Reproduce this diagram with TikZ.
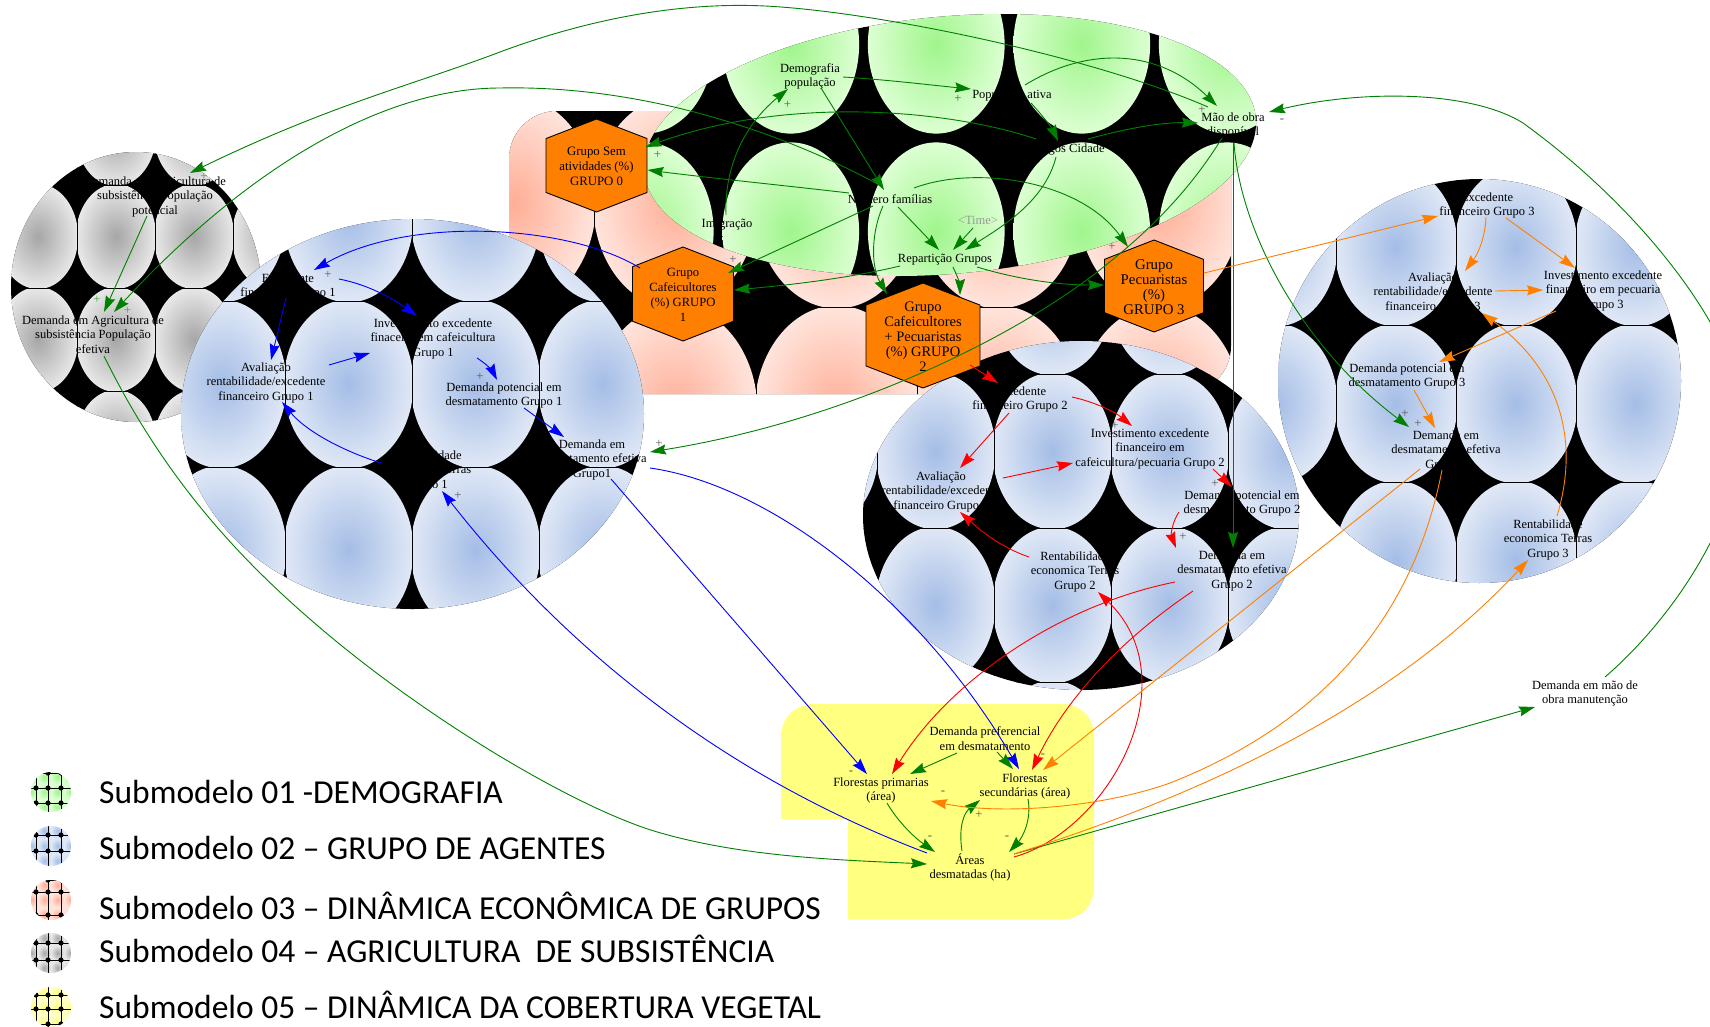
\documentclass[tikz,border=0pt]{standalone}
\usepackage{fontspec}
\setmainfont{Liberation Serif}
\newfontfamily\legendfont{Carlito}
\usetikzlibrary{arrows.meta,calc}
\definecolor{gin}{HTML}{A0F58C}\definecolor{gout}{HTML}{DCFFD2}
\definecolor{bin}{HTML}{A4BDE6}\definecolor{bout}{HTML}{E0E8F6}
\definecolor{sin}{HTML}{FFAE96}\definecolor{sout}{HTML}{FFE4DC}
\definecolor{cin}{HTML}{A6A6A6}\definecolor{cout}{HTML}{E8E8E8}
\definecolor{yin}{HTML}{FFFF80}\definecolor{yout}{HTML}{FFFFC8}
\definecolor{orangebox}{HTML}{FF8000}
\definecolor{vgreen}{HTML}{008000}
\tikzset{
 varbox/.style={align=center,inner sep=0pt,yshift=-1.5pt,font=\fontsize{12.5}{14.5}\selectfont},
 hexlabel/.style={align=center,inner sep=0pt,font=\fontsize{#1}{15.1}\selectfont},
 hexbox/.style={fill=orangebox,draw=black,line width=0.9pt},
 pol/.style={inner sep=0pt,font=\fontsize{12.8}{13}\selectfont,text=black!65},
 polg/.style={inner sep=0pt,font=\fontsize{12.8}{13}\selectfont,text=green!60!black!80},
 legtext/.style={anchor=west,inner sep=0pt,font=\legendfont\fontsize{33.5}{36}\selectfont},
 lig/.style={line width=0.9pt,-{Stealth[length=16pt,width=10pt,inset=2pt]}},
 ligv/.style={lig,draw=vgreen,color=vgreen},
 ligb/.style={lig,color=blue},
 ligr/.style={lig,color=red},
 ligo/.style={lig,color=orangebox},
}
% x line, y line, w, h, cols, rows, inner, outer, radius excess
\newcommand\painel[9]{%
 \fill[black] (-10,-10) rectangle (1720,1040);
 \foreach \i in {1,...,#5}{\foreach \j in {1,...,#6}{%
  \shade[inner color=#7,outer color=#8] ({#1+(\i-0.5)*#3},{#2+(\j-0.5)*#4}) ellipse [x radius={(#3/2+#9)*1pt},y radius={(#4/2+#9)*1pt}];
 }}%
 \foreach \i in {0,...,#5}{\draw[black,line width=0.9pt] ({#1+\i*#3},-10) -- ({#1+\i*#3},1040);}%
 \foreach \j in {0,...,#6}{\draw[black,line width=0.9pt] (-10,{#2+\j*#4}) -- (1720,{#2+\j*#4});}%
}
% cx, cy, half w, half h
\newcommand\hexa[4]{%
 \draw[hexbox] (#1,{#2-#4}) -- ({#1+#3},{#2-0.58*#4}) -- ({#1+#3},{#2+0.58*#4}) -- (#1,{#2+#4}) -- ({#1-#3},{#2+0.58*#4}) -- ({#1-#3},{#2-0.58*#4}) -- cycle;
}
% cy, inner, outer, list of y offsets
\newcommand\icone[4]{%
 \begin{scope}
  \clip (51,#1) circle [radius=20pt];
  \fill[#3] (25,{#1-25}) rectangle (77,{#1+25});
  \foreach \cx in {-22,-9,4,17,30}{\foreach \cy in {-30,-15,0,15,30}{%
   \shade[inner color=#2,outer color=#3] ({51+\cx+2.5},{#1+\cy}) ellipse [x radius=6.5pt,y radius=7.5pt];}}
  \foreach \dy in {#4}{%
   \draw[black,line width=1pt] (25,{#1+\dy}) -- (77,{#1+\dy});
   \foreach \dx in {-15,-3,10}{\fill[black] ({51+\dx},{#1+\dy}) circle [radius=2.6pt];}}
  \foreach \dx in {-15,-3,10}{\draw[black,line width=1pt] ({51+\dx},{#1-25}) -- ({51+\dx},{#1+25});}
 \end{scope}
}
\begin{document}
\begin{tikzpicture}[x=1pt,y=-1pt]
\useasboundingbox (0,0) rectangle (1710,1026);
\fill[white] (0,0) rectangle (1710,1026);

% --- submodel 03: salmon panel
\begin{scope}
 \clip[rounded corners=48pt] (509,111) rectangle (1231,394);
 \painel{433}{-111}{161.5}{209}{5}{3}{sin}{sout}{1.5}
\end{scope}
% --- submodel 01: green panel
\begin{scope}
 \clip[rotate around={5:(950,145)}] (950,145) ellipse [x radius=307pt,y radius=128.7pt];
 \painel{572.5}{-49}{145.5}{187}{5}{2}{gin}{gout}{-4.4}
\end{scope}
% --- submodel 04: grey panel
\begin{scope}
 \clip (136,287) ellipse [x radius=125pt,y radius=135pt];
 \painel{-1}{82}{78}{103}{4}{4}{cin}{cout}{1.1}
\end{scope}
% --- submodel 02: blue panels
\begin{scope}
 \clip (412.5,414) ellipse [x radius=231.5pt,y radius=195pt];
 \painel{158}{135}{127}{166}{4}{3}{bin}{bout}{1.4}
\end{scope}
\begin{scope}
 \clip (1081,515.5) ellipse [x radius=218pt,y radius=174.5pt];
 \painel{760}{220}{117}{154}{5}{4}{bin}{bout}{1.4}
\end{scope}
\begin{scope}
 \clip (1479.5,381) ellipse [x radius=201.5pt,y radius=202pt];
 \painel{1216}{168}{120}{157}{4}{3}{bin}{bout}{1.4}
\end{scope}
% --- submodel 05: yellow panel
\fill[yin] (848,919.5) -- (848,819) -- (781,819) -- (781,737) .. controls (781,717) and (796,704) .. (814,704) -- (1061,704) .. controls (1081,704) and (1094,717) .. (1094,737) -- (1094,886) .. controls (1094,906) and (1081,919.5) .. (1061,919.5) -- cycle;

% --- hexagons
\hexa{596.5}{165.5}{50.5}{46.5}
\hexa{683}{294}{50.5}{47}
\hexa{923}{335.5}{57}{52.5}
\hexa{1154}{286}{49.5}{46}
\node[hexlabel=12.8] (g0) at (596.5,166) {Grupo Sem\\atividades (\%)\\GRUPO 0};
\node[hexlabel=12.6] (g1) at (683,295) {Grupo\\Cafeicultores\\(\%) GRUPO\\1};
\node[hexlabel=14.5] (g2) at (923,336.5) {Grupo\\Cafeicultores\\+ Pecuaristas\\(\%) GRUPO\\2};
\node[hexlabel=14.8] (g3) at (1154,287) {Grupo\\Pecuaristas\\(\%)\\GRUPO 3};

% --- variables
\node[varbox] (demo) at (810,75) {Demografia\\população};
\node[varbox] (popa) at (1012,94) {População ativa};
\node[varbox] (mao) at (1233,124) {Mão de obra\\disponível};
\node[varbox] (emp) at (1060,148) {Empregos Cidade};
\node[varbox] (num) at (890,198) {Número famílias};
\node[varbox] (imi) at (727,223) {Imigração};
\node[varbox,text=black!40] (time) at (978,219) {<Time>};
\node[varbox] (rep) at (945,258) {Repartição Grupos};
\node[varbox] (agp) at (155,195) {Demanda em Agricultura de\\subsistência População\\potencial};
\node[varbox] (age) at (93,333) {Demanda em Agricultura de\\subsistência População\\efetiva};
\node[varbox] (ex1) at (288,285) {Excedente\\financeiro Grupo 1};
\node[varbox] (inv1) at (433,337) {Investimento excedente\\finaceiro em cafeicultura\\Grupo 1};
\node[varbox] (av1) at (266,381) {Avaliação\\rentabilidade/excedente\\financeiro Grupo 1};
\node[varbox] (dp1) at (504,394) {Demanda potencial em\\desmatamento Grupo 1};
\node[varbox] (de1) at (592,458) {Demanda em\\desmatamento efetiva\\Grupo1};
\node[varbox] (re1) at (427,469) {Rentabilidade\\economica Terras\\Grupo 1};
\node[varbox] (ex2) at (1020,398) {Excedente\\financeiro Grupo 2};
\node[varbox] (inv2) at (1150,447) {Investimento excedente\\financeiro em\\cafeicultura/pecuaria Grupo 2};
\node[varbox] (av2) at (941,490) {Avaliação\\rentabilidade/excedente\\financeiro Grupo 2};
\node[varbox] (dp2) at (1242,502) {Demanda potencial em\\desmatamento Grupo 2};
\node[varbox] (re2) at (1075,570) {Rentabilidade\\economica Terras\\Grupo 2};
\node[varbox] (de2) at (1232,569) {Demanda em\\desmatamento efetiva\\Grupo 2};
\node[varbox] (ex3) at (1487,204) {Excedente\\financeiro Grupo 3};
\node[varbox] (av3) at (1433,291) {Avaliação\\rentabilidade/excedente\\financeiro Grupo 3};
\node[varbox] (inv3) at (1603,289) {Investimento excedente\\financeiro em pecuaria\\Grupo 3};
\node[varbox] (dp3) at (1407,375) {Demanda potencial em\\desmatamento Grupo 3};
\node[varbox] (de3) at (1446,449) {Demanda em\\desmatamento efetiva\\Grupo 3};
\node[varbox] (re3) at (1548,538) {Rentabilidade\\economica Terras\\Grupo 3};
\node[varbox] (man) at (1585,692) {Demanda em mão de\\obra manutenção};
\node[varbox] (dpf) at (985,737) {Demanda preferencial\\em desmatamento};
\node[varbox] (fp) at (881,789) {Florestas primarias\\(área)};
\node[varbox] (fs) at (1025,785) {Florestas\\secundárias (área)};
\node[varbox] (ar) at (970,866) {Áreas\\desmatadas (ha)};

% --- polarities
\foreach \px/\py/\ps [count=\n] in {787.5/105/+,958/99/+,1202/110/+,657.5/155/+,733/260/+,1112/247/+,
 328/275/+,480/377/+,458/496/+,659/444/+,1115/426/+,1215/484/+,1183/537/+,1405/414/+,1418/424/+,
 851/773/-,943/793/-,979/815/+,930/838/-,1007/838/-,1043/756/-,1003/763/-,1282/121/-}
 {\node[pol] (pol\n) at (\px,\py) {\ps};}
\foreach \px/\py [count=\n] in {204/177,97/300,127.5/311}
 {\node[polg] (polg\n) at (\px,\py) {+};}

% --- connectors: green
\draw[ligv] ($(demo)+(33,0.5)$) .. controls (890,80) and (930,85) .. ($(popa)+(-41,-6.5)$);
\draw[ligv] ($(imi)+(-1,-9.5)$) .. controls (724,160) and (750,120) .. ($(demo)+(-22,12.5)$);
\draw[ligv] ($(demo)+(11,11.5)$) -- ($(num)+(-6,-9.5)$);
\draw[ligv] ($(emp)+(-24,-10.5)$) .. controls (950,110) and (790,95) .. ($(g0)+(49,-19)$);
\draw[ligv] ($(num)+(-41,-6.5)$) .. controls (780,185) and (710,178) .. ($(g0)+(51,4)$);
\draw[ligv] ($(num)+(-17,6.5)$) -- ($(g1)+(45,-22)$);
\draw[ligv] ($(num)+(8,7.5)$) -- ($(rep)+(-6,-9.5)$);
\draw[ligv] ($(num)+(-7,6.5)$) .. controls (872,230) and (870,265) .. ($(g2)+(-36,-42.5)$);
\draw[ligv] ($(num)+(24,-11.5)$) .. controls (975,165) and (1080,180) .. ($(g3)+(-26,-40)$);
\draw[ligv] ($(time)+(-5,7.5)$) -- ($(rep)+(8,-9.5)$);
\draw[ligv] ($(emp)+(-4,7.5)$) .. controls (1045,200) and (1005,225) .. ($(rep)+(20,-9.5)$);
\draw[ligv] ($(popa)+(19,7.5)$) .. controls (1042,115) and (1052,128) .. ($(emp)+(-2,-8.5)$);
\draw[ligv] ($(popa)+(13,-10.5)$) .. controls (1090,45) and (1160,50) .. ($(mao)+(-16,-19.5)$);
\draw[ligv] ($(emp)+(28,-10.5)$) .. controls (1120,130) and (1160,122) .. ($(mao)+(-35,-2.5)$);
\draw[ligv] ($(rep)+(-45,6.5)$) .. controls (850,278) and (790,285) .. ($(g1)+(51,-5)$);
\draw[ligv] ($(rep)+(8,7.5)$) .. controls (957,275) and (960,285) .. ($(g2)+(37,-41.5)$);
\draw[ligv] ($(rep)+(32,7.5)$) .. controls (1020,280) and (1060,285) .. ($(g3)+(-50,-2)$);
\draw[ligv] ($(mao)+(-25,-18.5)$) .. controls (1100,60) and (900,16) .. (781,7) .. controls (680,-1) and (580,22) .. (500,52) .. controls (410,86) and (330,105) .. ($(agp)+(35,-23.5)$);
\draw[ligv] ($(num)+(-7,-12.5)$) .. controls (780,130) and (640,85) .. (500,88) .. controls (385,88) and (250,165) .. ($(age)+(21,-22.5)$);
\draw[ligv] ($(agp)+(-8,19.5)$) -- ($(age)+(11,-22.5)$);
\draw[ligv] ($(age)+(11,21.5)$) .. controls (160,470) and (230,550) .. (311,620) .. controls (420,715) and (570,805) .. (654,831) .. controls (740,857) and (840,860) .. ($(ar)+(-43,-3.5)$);
\draw[ligv] ($(mao)+(1,17.5)$) .. controls (1240,230) and (1300,345) .. ($(de3)+(-37,-23.5)$);
\draw[ligv] ($(mao)+(0,17.5)$) -- ($(de2)+(1,-22.5)$);
\draw[ligv] ($(mao)+(-11,12.5)$) .. controls (1190,190) and (1150,230) .. (1106,265) .. controls (1020,335) and (850,420) .. ($(de1)+(58,-7.5)$);
\begin{scope}
 \clip (0,0) rectangle (1710,1026);
 \draw[ligv] ($(man)+(20,-16.5)$) .. controls (1660,630) and (1740,530) .. (1745,420) .. controls (1740,340) and (1650,215) .. (1523,123) .. controls (1470,90) and (1360,90) .. ($(mao)+(36,-13.5)$);
\end{scope}
\draw[ligv] ($(ar)+(44,-13.5)$) -- ($(man)+(-50,13.5)$);
\draw[ligv] ($(dpf)+(-28,14.5)$) -- ($(fp)+(29,-16.5)$);
\draw[ligv] ($(dpf)+(12,13.5)$) -- ($(fs)+(-12,-17.5)$);
\draw[ligv] ($(fp)+(6,12.5)$) .. controls (898,822) and (915,838) .. ($(ar)+(-35,-15.5)$);
\draw[ligv] ($(fs)+(3,12.5)$) .. controls (1032,820) and (1022,838) .. ($(ar)+(39,-15.5)$);
\draw[ligv] ($(ar)+(-8,-16.5)$) .. controls (958,825) and (965,812) .. ($(fs)+(-45,13.5)$);

% --- connectors: blue
\draw[ligb] ($(g1)+(-43,-27)$) .. controls (570,225) and (410,215) .. ($(ex1)+(26,-16.5)$);
\draw[ligb] ($(ex1)+(51,-7.5)$) .. controls (370,285) and (395,300) .. ($(inv1)+(-16,-22.5)$);
\draw[ligb] ($(ex1)+(-2,11.5)$) -- ($(av1)+(5,-22.5)$);
\draw[ligb] ($(av1)+(63,-17.5)$) -- ($(inv1)+(-63,14.5)$);
\draw[ligb] ($(inv1)+(44,19.5)$) .. controls (488,365) and (493,372) .. ($(dp1)+(-7,-15.5)$);
\draw[ligb] ($(dp1)+(20,12.5)$) -- ($(de1)+(-28,-22.5)$);
\draw[ligb] ($(re1)+(-46,-7.5)$) .. controls (340,450) and (305,430) .. ($(av1)+(16,19.5)$);
\draw[ligb] ($(ar)+(-43,-14.5)$) .. controls (760,790) and (590,680) .. ($(re1)+(15,20.5)$);
\draw[ligb] ($(de1)+(19,19.5)$) -- ($(fp)+(-14,-16.5)$);
\draw[ligb] ($(de1)+(58,8.5)$) .. controls (770,485) and (920,600) .. ($(fs)+(-6,-17.5)$);

% --- connectors: red
\draw[ligr] ($(g2)+(47,28.5)$) -- ($(ex2)+(-22,-16.5)$);
\draw[ligr] ($(ex2)+(52,-2.5)$) .. controls (1095,402) and (1115,412) .. ($(inv2)+(-18,-22.5)$);
\draw[ligr] ($(ex2)+(-11,13.5)$) -- ($(av2)+(19,-23.5)$);
\draw[ligr] ($(av2)+(62,-13.5)$) -- ($(inv2)+(-77,14.5)$);
\draw[ligr] ($(inv2)+(63,20.5)$) -- ($(dp2)+(-10,-16.5)$);
\draw[ligr] ($(dp2)+(-63,8.5)$) .. controls (1172,522) and (1171,535) .. ($(de2)+(-56,-22.5)$);
\draw[ligr] ($(re2)+(-46,-14.5)$) .. controls (1000,547) and (980,530) .. ($(av2)+(19,20.5)$);
\draw[ligr] ($(de2)+(-57,11.5)$) .. controls (1060,605) and (950,680) .. ($(fp)+(11,-16.5)$);
\draw[ligr] ($(de2)+(-39,20.5)$) .. controls (1120,640) and (1065,700) .. ($(fs)+(7,-16.5)$);
\draw[ligr] ($(ar)+(44,-10.5)$) .. controls (1110,830) and (1190,680) .. ($(re2)+(23,20.5)$);

% --- connectors: orange
\draw[ligo] ($(g3)+(50,-14)$) -- ($(ex3)+(-49,10.5)$);
\draw[ligo] ($(ex3)+(-1,11.5)$) .. controls (1485,240) and (1477,255) .. ($(av3)+(32,-21.5)$);
\draw[ligo] ($(ex3)+(19,12.5)$) -- ($(inv3)+(-28,-22.5)$);
\draw[ligo] ($(av3)+(62,-1.5)$) -- ($(inv3)+(-60,-0.5)$);
\draw[ligo] ($(inv3)+(-47,20.5)$) -- ($(dp3)+(32,-14.5)$);
\draw[ligo] ($(dp3)+(7,13.5)$) -- ($(de3)+(-11,-22.5)$);
\draw[ligo] ($(re3)+(9,-23.5)$) .. controls (1580,440) and (1560,370) .. ($(av3)+(49,20.5)$);
\draw[ligo] ($(de3)+(-26,18.5)$) -- ($(fs)+(18,-16.5)$);
\draw[ligo] ($(de3)+(-4,19.5)$) .. controls (1415,610) and (1330,720) .. (1170,783) .. controls (1100,808) and (1000,815) .. ($(fp)+(50,10.5)$);
\draw[ligo] ($(ar)+(44,-13.5)$) .. controls (1170,805) and (1380,720) .. ($(re3)+(-20,20.5)$);

% --- legend
\icone{792}{gin}{gout}{-19,-4,11}
\icone{846}{bin}{bout}{-11,5,-24}
\icone{900}{sin}{sout}{-8,15,-20}
\icone{953}{cin}{cout}{-10,7}
\icone{1007}{yin}{yout}{-12,2,17}
\node[legtext] (leg1) at (99,792) {Submodelo 01 -DEMOGRAFIA};
\node[legtext] (leg2) at (99,848) {Submodelo 02 – GRUPO DE AGENTES};
\node[legtext] (leg3) at (99,906) {Submodelo 03 – DINÂMICA ECONÔMICA DE GRUPOS};
\node[legtext] (leg4) at (99,949) {Submodelo 04 – AGRICULTURA\ \ DE SUBSISTÊNCIA};
\node[legtext] (leg5) at (99,1005) {Submodelo 05 – DINÂMICA DA COBERTURA VEGETAL};
\end{tikzpicture}
\end{document}
